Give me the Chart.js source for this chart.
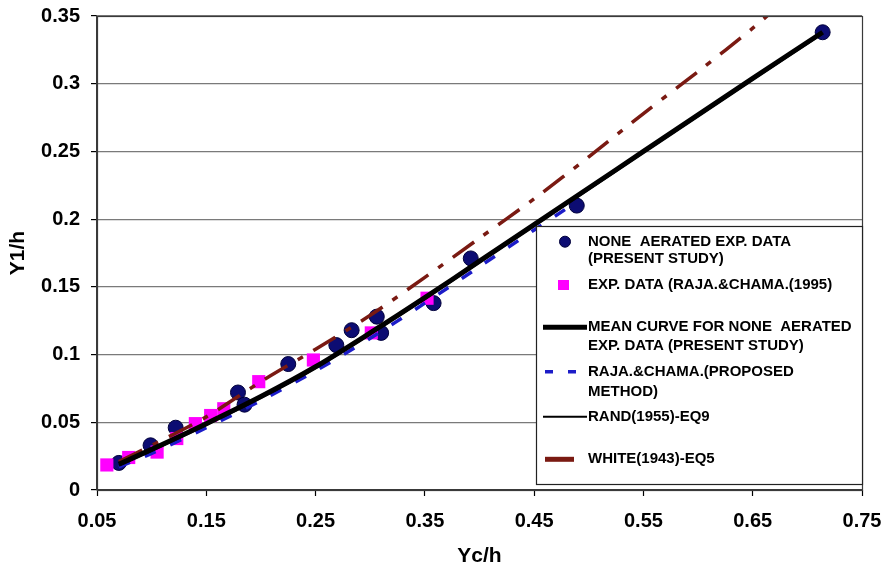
<!DOCTYPE html>
<html><head><meta charset="utf-8">
<script src="https://cdn.jsdelivr.net/npm/chart.js@4.4.1/dist/chart.umd.min.js"></script>
<style>html,body{margin:0;padding:0;background:#fff;}#wrap{width:886px;height:570px;position:relative;}</style>
</head><body><div id="wrap"><canvas id="c" width="886" height="570"></canvas></div>
<script>
// ---- axis ticks / titles ----
const xTickValues = [0.05, 0.15, 0.25, 0.35, 0.45, 0.55, 0.65, 0.75];
const xTickLabels = ["0.05", "0.15", "0.25", "0.35", "0.45", "0.55", "0.65", "0.75"];
const yTickValues = [0, 0.05, 0.1, 0.15, 0.2, 0.25, 0.3, 0.35];
const yTickLabels = ["0", "0.05", "0.1", "0.15", "0.2", "0.25", "0.3", "0.35"];
const xAxisTitle = "Yc/h";
const yAxisTitle = "Y1/h";

// ---- series ----
const noneAeratedX = [0.070, 0.099, 0.122, 0.179, 0.185, 0.225, 0.269, 0.283, 0.306, 0.310, 0.358, 0.392, 0.489, 0.714];
const noneAeratedY = [0.020, 0.033, 0.046, 0.072, 0.063, 0.093, 0.107, 0.118, 0.128, 0.116, 0.138, 0.171, 0.210, 0.338];

const rajaExpX = [0.059, 0.079, 0.105, 0.123, 0.140, 0.154, 0.166, 0.198, 0.248, 0.301, 0.352];
const rajaExpY = [0.0185, 0.024, 0.028, 0.038, 0.049, 0.055, 0.060, 0.080, 0.096, 0.116, 0.1416];

const meanCurveX = [0.07, 0.10, 0.15, 0.20, 0.25, 0.30, 0.35, 0.40, 0.45, 0.50, 0.55, 0.60, 0.65, 0.714];
const meanCurveY = [0.019, 0.030, 0.049, 0.069, 0.091, 0.116, 0.142, 0.169, 0.196, 0.223, 0.250, 0.277, 0.304, 0.338];

const rajaMethodX = [0.07, 0.10, 0.15, 0.20, 0.25, 0.30, 0.35, 0.40, 0.45, 0.48];
const rajaMethodY = [0.017, 0.027, 0.046, 0.066, 0.088, 0.112, 0.138, 0.165, 0.192, 0.208];

const randX = [0.07, 0.10, 0.15, 0.20, 0.25, 0.30, 0.35, 0.40, 0.45, 0.50, 0.55, 0.60, 0.65, 0.714];
const randY = [0.018, 0.029, 0.048, 0.068, 0.090, 0.115, 0.141, 0.168, 0.195, 0.222, 0.249, 0.276, 0.303, 0.337];

const whiteX = [0.07, 0.10, 0.15, 0.20, 0.25, 0.30, 0.35, 0.40, 0.45, 0.50, 0.55, 0.60, 0.65, 0.68];
const whiteY = [0.021, 0.033, 0.054, 0.080, 0.104, 0.129, 0.157, 0.186, 0.215, 0.246, 0.278, 0.309, 0.341, 0.362];

// ---- legend text ----
const legendNoneAerated = ["NONE  AERATED EXP. DATA", "(PRESENT STUDY)"];
const legendRajaExp = ["EXP. DATA (RAJA.&CHAMA.(1995)"];
const legendMean = ["MEAN CURVE FOR NONE  AERATED", "EXP. DATA (PRESENT STUDY)"];
const legendRajaMethod = ["RAJA.&CHAMA.(PROPOSED", "METHOD)"];
const legendRand = ["RAND(1955)-EQ9"];
const legendWhite = ["WHITE(1943)-EQ5"];

const pts = (xs, ys) => xs.map((x, i) => ({x: x, y: ys[i]}));
const FONT = '"Liberation Sans", Arial, sans-serif';

const datasets = [
  {label: legendNoneAerated.join(' '), data: pts(noneAeratedX, noneAeratedY), showLine: false,
   pointStyle: 'circle', pointRadius: 7.5, backgroundColor: '#0c0c72', borderColor: '#00003a', borderWidth: 1, order: 6},
  {label: legendRajaExp.join(' '), data: pts(rajaExpX, rajaExpY), showLine: false,
   pointStyle: 'rect', pointRadius: 9.3, backgroundColor: '#ff00ff', borderColor: '#e000e0', borderWidth: 0, order: 5},
  {label: legendMean.join(' '), data: pts(meanCurveX, meanCurveY), showLine: true, pointRadius: 0,
   borderColor: '#000000', borderWidth: 5, tension: 0.3, order: 1},
  {label: legendRajaMethod.join(' '), data: pts(rajaMethodX, rajaMethodY), showLine: true, pointRadius: 0,
   borderColor: '#1c1cc8', borderWidth: 3.5, borderDash: [12, 16], tension: 0.3, order: 3},
  {label: legendRand.join(' '), data: pts(randX, randY), showLine: true, pointRadius: 0,
   borderColor: '#000000', borderWidth: 2, tension: 0.3, order: 2},
  {label: legendWhite.join(' '), data: pts(whiteX, whiteY), showLine: true, pointRadius: 0,
   borderColor: '#7a1a12', borderWidth: 3.5, borderDash: [26, 12, 6, 12], tension: 0.3, order: 4, clip: 0}
];

const legendEntries = [
  {lines: legendNoneAerated, ds: 0, kind: 'circle', ys: [241.7, 259.3]},
  {lines: legendRajaExp, ds: 1, kind: 'rect', ys: [285]},
  {lines: legendMean, ds: 2, kind: 'line', ys: [327.3, 346]},
  {lines: legendRajaMethod, ds: 3, kind: 'dash', ys: [371.7, 391.7]},
  {lines: legendRand, ds: 4, kind: 'line', ys: [416.7]},
  {lines: legendWhite, ds: 5, kind: 'short', ys: [459.3]}
];

const framePlugin = {
  id: 'frame',
  afterDraw(chart) {
    const ctx = chart.ctx, a = chart.chartArea;
    ctx.save();
    ctx.strokeStyle = '#3a3a3a'; ctx.lineWidth = 1.2;
    ctx.strokeRect(Math.round(a.left) + 0.5, Math.round(a.top) + 0.5, Math.round(a.right - a.left), Math.round(a.bottom - a.top));
    // legend box
    const bx = 536, by = 226, bw = Math.round(a.right) - 536, bh = 258;
    ctx.fillStyle = '#ffffff';
    ctx.fillRect(bx, by, bw, bh);
    ctx.strokeStyle = '#222'; ctx.lineWidth = 1.2;
    ctx.strokeRect(bx + 0.5, by + 0.5, bw, bh);
    ctx.font = 'bold 15px ' + FONT;
    ctx.textBaseline = 'middle'; ctx.textAlign = 'left';
    legendEntries.forEach(e => {
      const ds = chart.data.datasets[e.ds];
      const y = e.ys[0];
      ctx.save();
      if (e.kind === 'circle') {
        ctx.beginPath(); ctx.arc(565, y, 5.5, 0, Math.PI * 2);
        ctx.fillStyle = ds.backgroundColor; ctx.fill();
        ctx.strokeStyle = ds.borderColor; ctx.lineWidth = 1; ctx.stroke();
      } else if (e.kind === 'rect') {
        ctx.fillStyle = ds.backgroundColor; ctx.fillRect(558, y - 5, 11, 10);
      } else {
        ctx.strokeStyle = ds.borderColor; ctx.lineWidth = ds.borderWidth;
        ctx.beginPath();
        if (e.kind === 'dash') { ctx.setLineDash([8, 15]); ctx.moveTo(545, y); ctx.lineTo(581, y); }
        else if (e.kind === 'short') { ctx.lineWidth = 5; ctx.moveTo(545, y); ctx.lineTo(574, y); }
        else { ctx.moveTo(543, y); ctx.lineTo(587, y); }
        ctx.stroke();
      }
      ctx.restore();
      ctx.fillStyle = '#000';
      e.lines.forEach((t, i) => ctx.fillText(t, 588, e.ys[i]));
    });
    ctx.restore();
  }
};

new Chart(document.getElementById('c'), {
  type: 'scatter',
  data: {datasets: datasets},
  plugins: [framePlugin],
  options: {
    responsive: false, animation: false, devicePixelRatio: 1,
    layout: {padding: {left: 0, right: 24, top: 16, bottom: 0}},
    plugins: {legend: {display: false}, tooltip: {enabled: false}},
    scales: {
      x: {
        type: 'linear', min: 0.05, max: 0.75,
        afterBuildTicks: s => { s.ticks = xTickValues.map(v => ({value: v})); },
        afterFit: s => { s.height = 80; s.paddingLeft = 0; s.paddingRight = 0; },
        ticks: {autoSkip: false, maxRotation: 0, padding: 13, color: '#000',
          font: {family: FONT, size: 20, weight: 'bold'},
          callback: (v) => { const i = xTickValues.findIndex(t => Math.abs(t - v) < 1e-9); return i >= 0 ? xTickLabels[i] : ''; }},
        grid: {drawOnChartArea: false, drawTicks: true, tickLength: 6, tickColor: '#000', tickWidth: 1.2},
        border: {display: true, color: '#3a3a3a', width: 1.2},
        title: {display: true, text: xAxisTitle, color: '#000', padding: {top: 0, bottom: 3.5},
          font: {family: FONT, size: 21, weight: 'bold', lineHeight: 1}}
      },
      y: {
        type: 'linear', min: 0, max: 0.35,
        afterBuildTicks: s => { s.ticks = yTickValues.map(v => ({value: v})); },
        afterFit: s => { s.width = 97; s.paddingTop = 0; s.paddingBottom = 0; },
        ticks: {autoSkip: false, padding: 11, color: '#000',
          font: {family: FONT, size: 20, weight: 'bold'},
          callback: (v) => { const i = yTickValues.findIndex(t => Math.abs(t - v) < 1e-9); return i >= 0 ? yTickLabels[i] : ''; }},
        grid: {color: '#7a7a7a', lineWidth: 1.2, drawTicks: true, tickLength: 6, tickColor: '#000', tickWidth: 1.2},
        border: {display: true, color: '#3a3a3a', width: 1.2},
        title: {display: true, text: yAxisTitle, color: '#000', padding: {top: 7.5, bottom: 0},
          font: {family: FONT, size: 21, weight: 'bold', lineHeight: 1}}
      }
    }
  }
});
</script></body></html>
